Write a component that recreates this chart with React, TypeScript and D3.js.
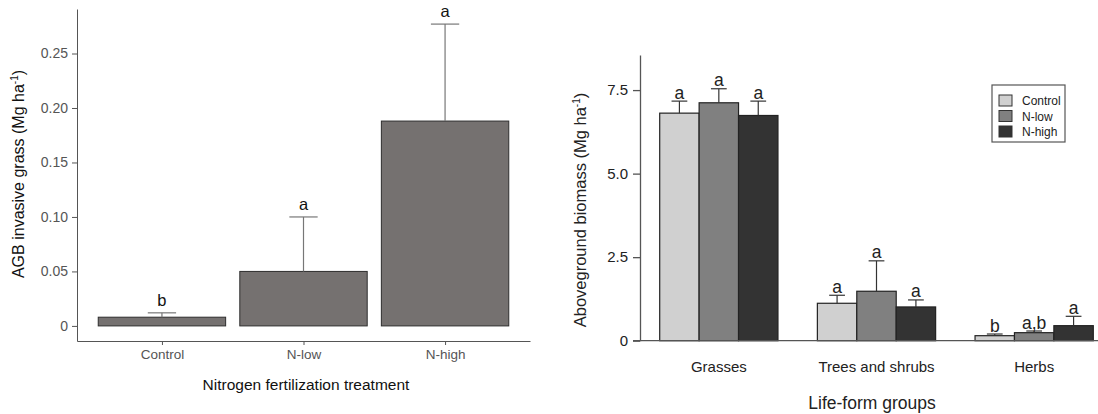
import React, { useEffect, useRef } from 'react';
import * as d3 from 'd3';

// left panel: invasive grass
const treatments = ['Control', 'N-low', 'N-high'];
const invasiveMean = [0.008, 0.05, 0.188];
const invasiveSE = [0.004, 0.05, 0.089];
const invasiveLetters = ['b', 'a', 'a'];

// right panel: life-form groups
const groups = ['Grasses', 'Trees and shrubs', 'Herbs'];
const controlMean = [6.81, 1.12, 0.15];
const controlSE = [0.36, 0.24, 0.05];
const nlowMean = [7.12, 1.48, 0.24];
const nlowSE = [0.42, 0.91, 0.05];
const nhighMean = [6.74, 1.01, 0.45];
const nhighSE = [0.43, 0.21, 0.28];
const controlLetters = ['a', 'a', 'b'];
const nlowLetters = ['a', 'a', 'a,b'];
const nhighLetters = ['a', 'a', 'a'];

const leftTicks = [0, 0.05, 0.1, 0.15, 0.2, 0.25];
const rightTicks = [0, 2.5, 5, 7.5];

const FONT = "'Liberation Sans', Arial, sans-serif";
const seriesColors = ['#d0d0d0', '#808080', '#333333'];

export default function App() {
  const ref = useRef<SVGSVGElement>(null);

  useEffect(() => {
    const svg = d3.select(ref.current);
    svg.selectAll('*').remove();

    // ---------- left panel ----------
    const maxTop = d3.max(invasiveMean.map((m, i) => m + invasiveSE[i])) as number;
    const pad = maxTop * 0.05;
    const y1 = d3.scaleLinear().domain([-pad, maxTop + pad]).range([341, 9]);
    const x1 = d3.scalePoint<string>().domain(treatments).range([77, 530]).padding(0.6);
    const step1 = x1.step();
    const bw1 = step1 * 0.9;

    const gL = svg.append('g');

    const yAxisL = gL.append('g')
      .attr('transform', 'translate(77,0)')
      .call(d3.axisLeft(y1).tickValues(leftTicks).tickSize(5).tickSizeOuter(0).tickPadding(4)
        .tickFormat((d: any) => (d === 0 ? '0' : d3.format('.2f')(d))));
    yAxisL.selectAll('text').attr('font-size', 14).attr('fill', '#555').attr('font-family', FONT);
    yAxisL.selectAll('line').attr('stroke', '#555');
    yAxisL.select('.domain').attr('stroke', '#555');

    const xAxisL = gL.append('g')
      .attr('transform', 'translate(0,341)')
      .call(d3.axisBottom(x1).tickSize(4).tickSizeOuter(0).tickPadding(4.5));
    xAxisL.selectAll('text').attr('font-size', 13.5).attr('fill', '#555').attr('font-family', FONT);
    xAxisL.selectAll('line').attr('stroke', '#555');
    xAxisL.select('.domain').attr('stroke', '#555');

    gL.selectAll('.barL')
      .data(treatments)
      .enter()
      .append('rect')
      .attr('x', d => (x1(d) as number) - bw1 / 2)
      .attr('width', bw1)
      .attr('y', (d, i) => y1(invasiveMean[i]))
      .attr('height', (d, i) => y1(0) - y1(invasiveMean[i]))
      .attr('fill', '#757170')
      .attr('stroke', '#2e2e2e')
      .attr('stroke-width', 1);

    treatments.forEach((t, i) => {
      const cx = x1(t) as number;
      const top = y1(invasiveMean[i] + invasiveSE[i]);
      gL.append('line')
        .attr('x1', cx).attr('x2', cx)
        .attr('y1', y1(invasiveMean[i])).attr('y2', top)
        .attr('stroke', '#777').attr('stroke-width', 1.2);
      gL.append('line')
        .attr('x1', cx - step1 * 0.1).attr('x2', cx + step1 * 0.1)
        .attr('y1', top).attr('y2', top)
        .attr('stroke', '#777').attr('stroke-width', 1.2);
      gL.append('text')
        .attr('x', cx).attr('y', top - 7)
        .attr('text-anchor', 'middle')
        .attr('font-size', 16.5).attr('font-family', FONT).attr('fill', '#111')
        .text(invasiveLetters[i]);
    });

    gL.append('text')
      .attr('transform', 'translate(24,174) rotate(-90)')
      .attr('text-anchor', 'middle')
      .attr('font-size', 16).attr('font-family', FONT).attr('fill', '#111')
      .call(t => {
        t.append('tspan').text('AGB invasive grass (Mg ha');
        t.append('tspan').attr('font-size', 10).attr('dy', -6).text('-1');
        t.append('tspan').attr('dy', 6).text(')');
      });

    gL.append('text')
      .attr('x', 306).attr('y', 390)
      .attr('text-anchor', 'middle')
      .attr('font-size', 15.5).attr('font-family', FONT).attr('fill', '#111')
      .text('Nitrogen fertilization treatment');

    // ---------- right panel ----------
    const y2 = d3.scaleLinear().domain([0, 8.55]).range([340.7, 55]);
    const x2 = d3.scaleBand<string>().domain(groups).range([640, 1113]).paddingInner(0.25).paddingOuter(0.125);
    const barW = x2.bandwidth() / 3;
    const means = [controlMean, nlowMean, nhighMean];
    const ses = [controlSE, nlowSE, nhighSE];
    const letters = [controlLetters, nlowLetters, nhighLetters];

    const gR = svg.append('g');

    const yAxisR = gR.append('g')
      .attr('transform', 'translate(640,0)')
      .call(d3.axisLeft(y2).tickValues(rightTicks).tickSize(7).tickSizeOuter(0).tickPadding(5)
        .tickFormat((d: any) => (d === 0 ? '0' : d3.format('.1f')(d))));
    yAxisR.selectAll('text').attr('font-size', 15).attr('fill', '#222').attr('font-family', FONT);
    yAxisR.selectAll('line').attr('stroke', '#555').attr('stroke-width', 1.3);
    yAxisR.select('.domain').attr('stroke', '#555').attr('stroke-width', 1.3);

    means.forEach((series, s) => {
      groups.forEach((g, i) => {
        const bx = (x2(g) as number) + s * barW;
        const cx = bx + barW / 2;
        const top = y2(series[i] + ses[s][i]);
        gR.append('rect')
          .attr('x', bx).attr('width', barW)
          .attr('y', y2(series[i]))
          .attr('height', y2(0) - y2(series[i]))
          .attr('fill', seriesColors[s])
          .attr('stroke', '#222').attr('stroke-width', 1.2);
        gR.append('line')
          .attr('x1', cx).attr('x2', cx)
          .attr('y1', y2(series[i])).attr('y2', top)
          .attr('stroke', '#333').attr('stroke-width', 1.2);
        gR.append('line')
          .attr('x1', cx - barW * 0.2).attr('x2', cx + barW * 0.2)
          .attr('y1', top).attr('y2', top)
          .attr('stroke', '#333').attr('stroke-width', 1.2);
        gR.append('text')
          .attr('x', cx).attr('y', top - 2.5)
          .attr('text-anchor', 'middle')
          .attr('font-size', 17.5).attr('font-family', FONT).attr('fill', '#222')
          .text(letters[s][i]);
      });
    });

    gR.append('line')
      .attr('x1', 633).attr('x2', 1098)
      .attr('y1', y2(0)).attr('y2', y2(0))
      .attr('stroke', '#555').attr('stroke-width', 1.3);

    gR.selectAll('.grpLabel')
      .data(groups)
      .enter()
      .append('text')
      .attr('x', d => (x2(d) as number) + x2.bandwidth() / 2)
      .attr('y', 372)
      .attr('text-anchor', 'middle')
      .attr('font-size', 15).attr('font-family', FONT).attr('fill', '#222')
      .text(d => d);

    gR.append('text')
      .attr('x', 872).attr('y', 409)
      .attr('text-anchor', 'middle')
      .attr('font-size', 17.5).attr('font-family', FONT).attr('fill', '#222')
      .text('Life-form groups');

    gR.append('text')
      .attr('transform', 'translate(586,210) rotate(-90)')
      .attr('text-anchor', 'middle')
      .attr('font-size', 16.5).attr('font-family', FONT).attr('fill', '#222')
      .call(t => {
        t.append('tspan').text('Aboveground biomass (Mg ha');
        t.append('tspan').attr('font-size', 10).attr('dy', -6).text('-1');
        t.append('tspan').attr('dy', 6).text(')');
      });

    // legend
    const leg = gR.append('g').attr('transform', 'translate(992,85)');
    leg.append('rect')
      .attr('width', 73).attr('height', 57)
      .attr('fill', '#fff').attr('stroke', '#555').attr('stroke-width', 1.2);
    treatments.forEach((t, i) => {
      leg.append('rect')
        .attr('x', 7).attr('y', 10 + i * 15.5)
        .attr('width', 13).attr('height', 11)
        .attr('fill', seriesColors[i]).attr('stroke', '#333').attr('stroke-width', 1);
      leg.append('text')
        .attr('x', 30).attr('y', 20 + i * 15.5)
        .attr('font-size', 12).attr('font-family', FONT).attr('fill', '#222')
        .text(t);
    });
  }, []);

  return (
    <svg ref={ref} width={1098} height={414}
      style={{ position: 'absolute', left: 0, top: 0, background: '#fff' }} />
  );
}
